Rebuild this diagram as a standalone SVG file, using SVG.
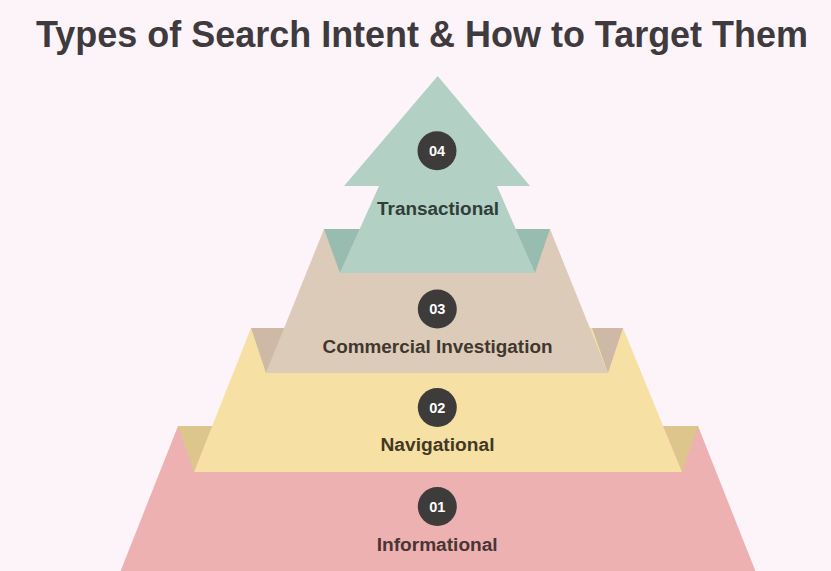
<svg xmlns="http://www.w3.org/2000/svg" width="831" height="571" viewBox="0 0 831 571">
<style>
.title{font-family:"Liberation Sans",Arial,sans-serif;font-weight:bold;font-size:37px;fill:#3e3a3d}
.lbl{font-family:"Liberation Sans",Arial,sans-serif;font-weight:bold;font-size:17.5px;text-anchor:middle}
.num{font-family:"Liberation Sans",Arial,sans-serif;font-weight:bold;font-size:14.5px;fill:#ffffff;text-anchor:middle}
.badge{fill:#3d3c3b}
</style>
<rect width="831" height="571" fill="#fdf4f9"/>
<text class="title" x="36" y="47" textLength="772" lengthAdjust="spacingAndGlyphs">Types of Search Intent &amp; How to Target Them</text>

<g id="informational">
<polygon points="178,426 698,426 757,575 119,575" fill="#eeb1b2"/>
<polygon points="178,426 212,426 194,472" fill="#dcc68b"/>
<polygon points="664,426 698,426 682,472" fill="#dcc68b"/>
<circle class="badge" cx="437.3" cy="506.5" r="19.5"/>
<text class="num" x="437.3" y="511.5">01</text>
<text class="lbl" x="437.2" y="550.7" textLength="121" lengthAdjust="spacingAndGlyphs" fill="#4a3535">Informational</text>
</g>

<g id="navigational">
<polygon points="251,328 623,328 682,472 194,472" fill="#f7e0a4"/>
<polygon points="251,328 285,328 266,373" fill="#cdb9a6"/>
<polygon points="592,328 623,328 608,373" fill="#cdb9a6"/>
<circle class="badge" cx="437.3" cy="407.5" r="19.5"/>
<text class="num" x="437.3" y="412.5">02</text>
<text class="lbl" x="437.5" y="451" textLength="114" lengthAdjust="spacingAndGlyphs" fill="#423824">Navigational</text>
</g>

<g id="commercial-investigation">
<polygon points="324,229 550,229 608,373 266,373" fill="#dccbb9"/>
<polygon points="324,229 360,229 340,273" fill="#99bcb1"/>
<polygon points="514,229 550,229 535,273" fill="#99bcb1"/>
<circle class="badge" cx="437.3" cy="309" r="19.5"/>
<text class="num" x="437.3" y="314">03</text>
<text class="lbl" x="437.5" y="353.3" textLength="230" lengthAdjust="spacingAndGlyphs" fill="#41372f">Commercial Investigation</text>
</g>

<g id="transactional">
<polygon points="437.7,76 530,186 497,186 535,273 340,273 379,186 344,186" fill="#b3d0c5"/>
<circle class="badge" cx="437" cy="150.7" r="19.5"/>
<text class="num" x="437" y="155.7">04</text>
<text class="lbl" x="438" y="215" textLength="122" lengthAdjust="spacingAndGlyphs" fill="#2f3e39">Transactional</text>
</g>

<g id="connectors"></g>
</svg>
